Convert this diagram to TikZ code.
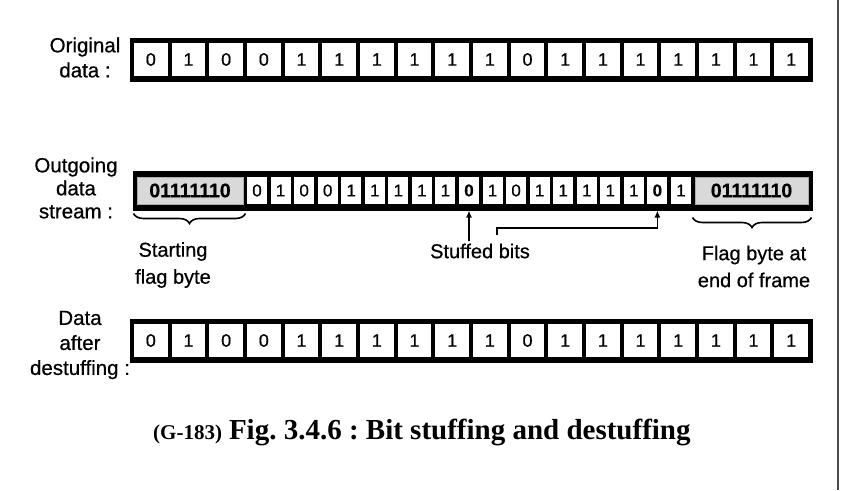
\documentclass[tikz,border=0pt]{standalone}
\usepackage{fontspec}
\setmainfont[FakeBold=0.6]{Liberation Sans}
\newfontfamily\capfont{Liberation Serif}
\usetikzlibrary{arrows.meta,decorations.pathreplacing,calc}
\tikzset{
  frame/.style={fill=black, draw=black, line width=1pt, inner sep=0pt},
  cellA/.style={fill=white, inner sep=0pt, minimum width=33.67pt, minimum height=33pt, font=\fontsize{18}{18}\selectfont},
  cellB/.style={fill=white, inner sep=0pt, minimum width=20.05pt, minimum height=27pt, font=\fontsize{17}{17}\selectfont},
  flagbox/.style={fill=gray!30, draw=gray!65, line width=1pt, inner sep=0pt, minimum height=27pt, font=\bfseries\fontsize{19.5}{19.5}\selectfont},
  lbl/.style={align=center, inner sep=0pt, font=\fontsize{20.5}{25}\selectfont},
  lblr/.style={align=center, inner sep=0pt, font=\fontsize{20.5}{23}\selectfont},
  note/.style={align=center, inner sep=0pt, font=\fontsize{20}{27}\selectfont},
  pointer/.style={line width=1.6pt, -{Latex[length=7pt,width=6pt]}},
  bracebar/.style={line width=1.6pt, decorate, decoration={brace, mirror, amplitude=10pt}},
}
\begin{document}
\begin{tikzpicture}[x=1pt,y=-1pt]
\useasboundingbox (0,0) rectangle (842,490);
\fill[white] (0,0) rectangle (842,490);
% page edge
\draw[line width=2.5pt, black!70] (838,0) -- (838,490);

% ---- Row 1: original data
\node[lbl] (l1) at (85,57.5) {Original\\data :};
\node[frame, minimum width=682pt, minimum height=43pt] (f1) at (471,59.5) {};
\foreach \b [count=\i] in {0,1,0,0,1,1,1,1,1,1,0,1,1,1,1,1,1,1} {
  \node[cellA] (a\i) at ({134+(\i-1)*37.67+16.835},59.5) {\b};
}

% ---- Row 2: outgoing stream
\node[lblr] (l2) at (76,188) {Outgoing\\data\\stream :};
\node[frame, minimum width=679pt, minimum height=39pt] (f2) at (472.5,190.5) {};
\node[flagbox, minimum width=106pt] (fs) at (190,190.5) {01111110};
\foreach \b [count=\i] in {0,1,0,0,1,1,1,1,1,{\bfseries 0},1,0,1,1,1,1,1,{\bfseries 0},1} {
  \node[cellB] (b\i) at ({247+(\i-1)*23.55+10.025},190.5) {\b};
}
\node[flagbox, minimum width=113pt] (fe) at (751.5,190.5) {01111110};

% braces and notes
\draw[bracebar] ($(fs.south west)+(-3,9)$) coordinate (bs1) -- ($(fs.south east)+(2,9)$) coordinate (bs2);
\node[note] (nstart) at (173,265) {Starting\\flag byte};
\draw[bracebar] ($(fe.south west)+(-2,13)$) coordinate (be1) -- ($(fe.south east)+(3,13)$) coordinate (be2);
\node[note] (nend) at (754,266.5) {Flag byte at\\end of frame};

\node[note] (nstuff) at (480,251) {Stuffed bits};
\draw[pointer] (nstuff.north -| b10) ++(0,-2) -- (b10 |- f2.south);
\coordinate (tk) at (497,235);
\draw[pointer] (tk) -- ++(0,-7) -| (b18 |- f2.south);

% ---- Row 3: after destuffing
\node[lbl] (l3) at (80,345) {Data\\after\\destuffing :};
\node[frame, minimum width=682pt, minimum height=43pt] (f3) at (471,340.5) {};
\foreach \b [count=\i] in {0,1,0,0,1,1,1,1,1,1,0,1,1,1,1,1,1,1} {
  \node[cellA] (c\i) at ({134+(\i-1)*37.67+16.835},340.5) {\b};
}

% ---- caption
\node[inner sep=0pt, anchor=base west] (cap) at (153,439) {\capfont\bfseries\frenchspacing\fontsize{21}{22}\selectfont (G-183)\hspace{7pt}\fontsize{29}{30}\selectfont Fig. 3.4.6 : Bit stuffing and destuffing};
\end{tikzpicture}
\end{document}
